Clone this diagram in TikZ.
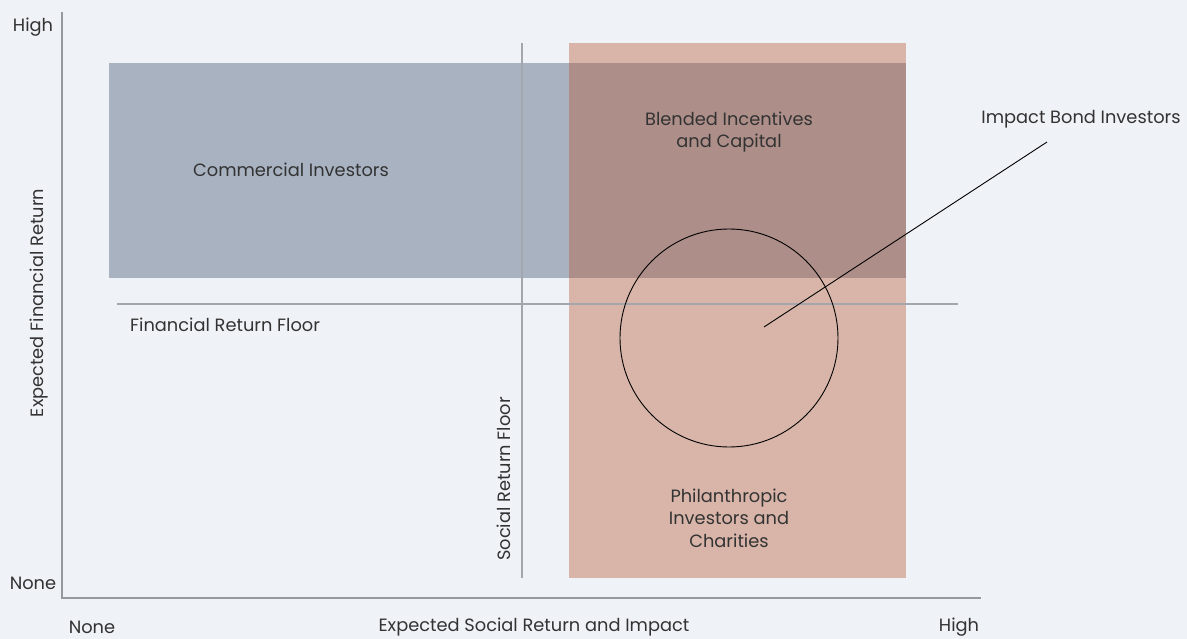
\documentclass[tikz,border=0pt]{standalone}
\usepackage{fontspec}
\setmainfont{Poppins}
\usetikzlibrary{positioning}
\definecolor{bgcol}{RGB}{239,242,246}
\definecolor{bluebox}{RGB}{168,178,193}
\definecolor{pinkbox}{RGB}{182,90,51}
\definecolor{axisgray}{RGB}{150,154,160}
\definecolor{floorgray}{RGB}{163,167,173}
\definecolor{txtgray}{RGB}{51,51,51}

\begin{document}
\begin{tikzpicture}[x=1pt,y=-1pt,
		lbl/.style={text=txtgray, font=\fontsize{17.8}{22.5}\selectfont, inner sep=0pt, align=center},
		floorline/.style={draw=floorgray, line width=1.2pt}]
	\fill[bgcol] (0,0) rectangle (1187,639);
	\useasboundingbox (0,0) rectangle (1187,639);
	% boxes
	\fill[bluebox] (109,63) rectangle (906,278);
	\fill[pinkbox, fill opacity=0.4] (569,43) rectangle (906,578);
	% floors
	\draw[floorline] (117,304) -- (958,304);
	\draw[floorline] (522,43) -- (522,578);
	% axes
	\draw[axisgray, line width=1.2pt] (62,12) -- (62,598) -- (981,598);
	\foreach \y/\t/\n in {27/High/yhigh,583/None/ynone} {
		\node[lbl] (\n) at (33,\y) {\t};
	}
	\foreach \x/\t/\n in {92/None/xnone,534/Expected Social Return and Impact/xname,959/High/xhigh} {
		\node[lbl] (\n) at (\x,627) {\t};
	}
	\node[lbl, rotate=90] (yname) at (39,303) {Expected Financial Return};
	% labels
	\node[lbl] (commercial) at (291,170) {Commercial Investors};
	\node[lbl] (blended) at (729,132) {Blended Incentives\\and Capital};
	\node[lbl] (philan) at (729,518) {Philanthropic\\Investors and\\Charities};
	\node[lbl, anchor=west] (finfloor) at (130,325) {Financial Return Floor};
	\node[lbl, rotate=90] (socfloor) at (504,479) {Social Return Floor};
	% impact bonds
	\node[circle, draw=black, line width=0.9pt, minimum size=218pt, inner sep=0pt] (bond) at (729,338) {};
	\node[lbl] (bondlbl) at (1081,119) {Impact Bond Investors};
	\coordinate (bondpt) at (764,327);
	\coordinate (bondtip) at (1047,142);
	\draw[black, line width=0.9pt] (bondpt) -- (bondtip);
\end{tikzpicture}
\end{document}
